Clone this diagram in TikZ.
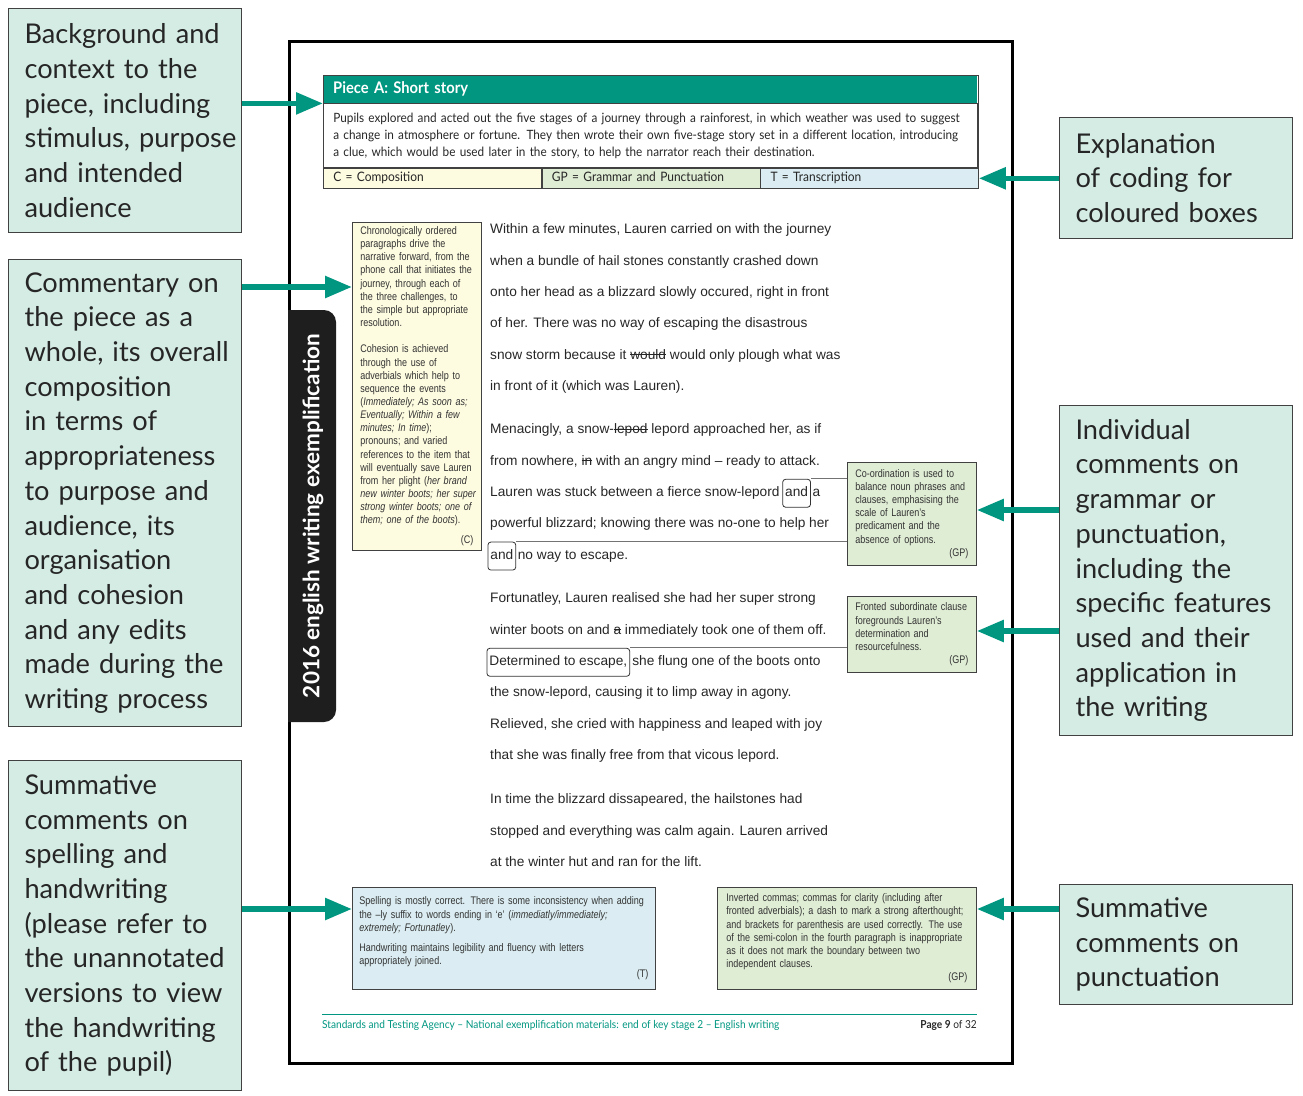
\documentclass[tikz,border=0pt]{standalone}
\usepackage{fontspec}
\setmainfont{Lato}
\newfontfamily\briefont[FakeStretch=0.92]{Lato}
\newfontfamily\storyfont{Liberation Sans}
\newfontfamily\narrowfont[FakeStretch=0.82]{Liberation Sans}
\newsavebox{\struckbox}
\newcommand{\struck}[1]{\sbox{\struckbox}{#1}\rlap{\rule[0.3em]{\wd\struckbox}{0.07em}}#1}
\definecolor{agencyteal}{RGB}{0, 150, 128}
\definecolor{notefill}{RGB}{213, 236, 229}
\definecolor{compfill}{RGB}{253, 251, 224}
\definecolor{gpfill}{RGB}{224, 237, 213}
\definecolor{tfill}{RGB}{219, 237, 242}
\definecolor{edgegray}{RGB}{65, 65, 65}
\definecolor{tabblack}{RGB}{30, 30, 30}
\usetikzlibrary{arrows.meta, positioning, fit}
\tikzset{
    keeplines/.style={
        execute at begin node={\leftskip=0pt\rightskip=0pt plus 1fil minus 60pt\hyphenpenalty=10000\relax}
    },
    notebox/.style={
        rectangle,
        draw=edgegray,
        line width=1pt,
        fill=notefill,
        anchor=north west,
        minimum width=233pt,
        text width=201pt,
        inner xsep=16pt,
        align=left,
        keeplines,
        text=black!85,
        font=\fontsize{27.2}{34.7}\selectfont
    },
    commentbox/.style={
        rectangle,
        draw=edgegray,
        line width=0.8pt,
        anchor=north west,
        inner xsep=8pt,
        inner ysep=0pt,
        align=left,
        keeplines,
        text=black!80,
        font=\narrowfont\fontsize{11}{13.15}\selectfont
    },
    coderow/.style={
        rectangle,
        draw=edgegray,
        line width=0.6pt,
        anchor=north west,
        minimum width=218pt,
        minimum height=20pt,
        text width=198pt,
        text height=9pt,
        text depth=2.5pt,
        inner xsep=10pt,
        align=left,
        keeplines,
        text=black!85,
        font=\briefont\fontsize{13}{14}\selectfont
    },
    storyline/.style={
        inner sep=0pt,
        anchor=base west,
        text=black!85,
        font=\storyfont\fontsize{13.7}{16}\selectfont
    },
    wordbox/.style={
        draw=black!80,
        line width=0.8pt,
        rounded corners=3pt,
        inner xsep=2.5pt,
        inner ysep=0pt,
        text height=10pt,
        text depth=3.5pt,
        minimum height=28pt,
        anchor=base west,
        text=black!85,
        font=\storyfont\fontsize{13.7}{16}\selectfont
    },
    tieline/.style={draw=black!55, line width=1pt},
    pointer/.style={-{Triangle[length=27pt, width=21pt]}, line width=5.5pt, color=agencyteal},
    footnote/.style={inner sep=0pt, text=agencyteal, font=\briefont\fontsize{11}{12}\selectfont}
}
\begin{document}
\begin{tikzpicture}[x=1pt, y=-1pt]
    \useasboundingbox (0,0) rectangle (1303,1095);

    % page with side tab
    \node[draw=black, line width=2.5pt, minimum width=723pt, minimum height=1022pt, anchor=north west, inner sep=0pt] (page) at (288,40) {};
    \fill[tabblack] (288,310) -- (324,310) arc[start angle=-90, end angle=0, radius=12] -- (336,710) arc[start angle=0, end angle=90, radius=12] -- (288,722) -- cycle;
    \node[rotate=90, text=white, font=\bfseries\fontsize{22.5}{25}\selectfont] (tabtitle) at (313,516) {2016 english writing exemplification};

    % header with coding key
    \node[rectangle, fill=agencyteal, anchor=north west, minimum width=654pt, minimum height=28pt, text width=634pt, inner xsep=10pt, align=left, keeplines, text=white, font=\briefont\bfseries\fontsize{16}{17}\selectfont] (title) at (323,75) {Piece A: Short story};
    \node[rectangle, draw=edgegray, line width=0.6pt, anchor=north west, minimum width=654pt, minimum height=64pt, text width=634pt, inner xsep=10pt, inner ysep=0pt, align=left, keeplines, text=black!85, font=\briefont\fontsize{12.8}{17}\selectfont] (brief) at (title.south west) {Pupils explored and acted out the five stages of a journey through a rainforest, in which weather was used to suggest\\ a change in atmosphere or fortune. They then wrote their own five-stage story set in a different location, introducing\\ a clue, which would be used later in the story, to help the narrator reach their destination.};
    \node[coderow, fill=compfill] (ccode) at (brief.south west) {C = Composition};
    \node[coderow, fill=gpfill] (gpcode) at (ccode.north east) {GP = Grammar and Punctuation};
    \node[coderow, fill=tfill] (tcode) at (gpcode.north east) {T = Transcription};
    \node[draw=edgegray, line width=0.8pt, inner sep=0pt, fit=(title)(ccode)(tcode)] (piece) {};

    % story
    \node[storyline] (s1) at (490,233.7) {Within a few minutes, Lauren carried on with the journey};
    \node[storyline] (s2) at (490,265.1) {when a bundle of hail stones constantly crashed down};
    \node[storyline] (s3) at (490,296.5) {onto her head as a blizzard slowly occured, right in front};
    \node[storyline] (s4) at (490,327.9) {of her. There was no way of escaping the disastrous};
    \node[storyline] (s5) at (490,359.3) {snow storm because it \struck{would} would only plough what was};
    \node[storyline] (s6) at (490,390.7) {in front of it (which was Lauren).};

    \node[storyline] (s7) at (490,433.7) {Menacingly, a snow-\struck{lepod} lepord approached her, as if};
    \node[storyline] (s8) at (490,465.1) {from nowhere, \struck{in} with an angry mind – ready to attack.};
    \node[storyline] (s9) at (490,496.5) {Lauren was stuck between a fierce snow-lepord};
    \node[wordbox] (and1) at ([xshift=2.5pt]s9.base east) {and};
    \node[storyline] (s9b) at ([xshift=1.5pt]and1.base east) {a};
    \node[storyline] (s10) at (490,527.9) {powerful blizzard; knowing there was no-one to help her};
    \node[wordbox] (and2) at (487.5,559.3) {and};
    \node[storyline] (s11) at ([xshift=1.5pt]and2.base east) {no way to escape.};

    \node[storyline] (s12) at (490,602.7) {Fortunatley, Lauren realised she had her super strong};
    \node[storyline] (s13) at (490,634.1) {winter boots on and \struck{a} immediately took one of them off.};
    \node[wordbox] (det) at (486.5,665.5) {Determined to escape,};
    \node[storyline] (s14) at ([xshift=2pt]det.base east) {she flung one of the boots onto};
    \node[storyline] (s15) at (490,696.9) {the snow-lepord, causing it to limp away in agony.};
    \node[storyline] (s16) at (490,728.3) {Relieved, she cried with happiness and leaped with joy};
    \node[storyline] (s17) at (490,759.7) {that she was finally free from that vicous lepord.};

    \node[storyline] (s18) at (490,803.7) {In time the blizzard dissapeared, the hailstones had};
    \node[storyline] (s19) at (490,835.1) {stopped and everything was calm again. Lauren arrived};
    \node[storyline] (s20) at (490,866.5) {at the winter hut and ran for the lift.};

    % comments on the piece
    \node[commentbox, fill=compfill, minimum width=129pt, minimum height=328pt, text width=113pt] (cbox) at (352,222) {Chronologically ordered\\ paragraphs drive the\\ narrative forward, from the\\ phone call that initiates the\\ journey, through each of\\ the three challenges, to\\ the simple but appropriate\\ resolution.\\[13.15pt] Cohesion is achieved\\ through the use of\\ adverbials which help to\\ sequence the events\\ (\textit{Immediately; As soon as;}\\ \textit{Eventually; Within a few}\\ \textit{minutes; In time});\\ pronouns; and varied\\ references to the item that\\ will eventually save Lauren\\ from her plight (\textit{her brand}\\ \textit{new winter boots; her super}\\ \textit{strong winter boots; one of}\\ \textit{them; one of the boots}).\\[7pt] \hspace*{\fill}(C)};
    \node[commentbox, fill=gpfill, minimum width=129pt, minimum height=103pt, text width=113pt] (gpa) at (847,462) {Co-ordination is used to\\ balance noun phrases and\\ clauses, emphasising the\\ scale of Lauren’s\\ predicament and the\\ absence of options.\\ \hspace*{\fill}(GP)};
    \node[commentbox, fill=gpfill, minimum width=129pt, minimum height=76pt, text width=113pt] (gpb) at (847,596) {Fronted subordinate clause\\ foregrounds Lauren’s\\ determination and\\ resourcefulness.\\ \hspace*{\fill}(GP)};
    \node[commentbox, fill=tfill, minimum width=303pt, minimum height=102pt, text width=289pt, inner xsep=7pt] (tbox) at (352,887) {Spelling is mostly correct. There is some inconsistency when adding\\ the –ly suffix to words ending in ‘e’ (\textit{immediatly/immediately;}\\ \textit{extremely; Fortunatley}).\\[7pt] Handwriting maintains legibility and fluency with letters\\ appropriately joined.\\ \hspace*{\fill}(T)};
    \node[commentbox, fill=gpfill, minimum width=259pt, minimum height=102pt, text width=241pt, inner xsep=9pt] (gpc) at (717,887) {Inverted commas; commas for clarity (including after\\ fronted adverbials); a dash to mark a strong afterthought;\\ and brackets for parenthesis are used correctly. The use\\ of the semi-colon in the fourth paragraph is inappropriate\\ as it does not mark the boundary between two\\ independent clauses.\\ \hspace*{\fill}(GP)};

    \draw[tieline] (and1.north east) -- (and1.north east -| gpa.west);
    \draw[tieline] (and2.north east) -- (and2.north east -| gpa.west);
    \draw[tieline] (det.north east) -- (det.north east -| gpb.west);

    % footer
    \draw[agencyteal, line width=1pt] (322,1014) -- (977,1014);
    \node[footnote, anchor=base west] (agency) at (322,1028.5) {Standards and Testing Agency – National exemplification materials: end of key stage 2 – English writing};
    \node[footnote, anchor=base east, text=black!85] (pageno) at (977,1028.5) {\textbf{Page 9} of 32};

    % explanation boxes
    \node[notebox, minimum height=224pt] (bg) at (8,8) {Background and\\ context to the\\ piece, including\\ stimulus, purpose\\ and intended\\ audience};
    \node[notebox, minimum height=467pt] (comm) at (8,259) {Commentary on\\ the piece as a\\ whole, its overall\\ composition\\ in terms of\\ appropriateness\\ to purpose and\\ audience, its\\ organisation\\ and cohesion\\ and any edits\\ made during the\\ writing process};
    \node[notebox, minimum height=330pt] (summ) at (8,760) {Summative\\ comments on\\ spelling and\\ handwriting\\ (please refer to\\ the unannotated\\ versions to view\\ the handwriting\\ of the pupil)};
    \node[notebox, minimum height=121pt] (expl) at (1059,117) {Explanation\\ of coding for\\ coloured boxes};
    \node[notebox, minimum height=330pt] (ind) at (1059,405) {Individual\\ comments on\\ grammar or\\ punctuation,\\ including the\\ specific features\\ used and their\\ application in\\ the writing};
    \node[notebox, minimum height=120pt] (punc) at (1059,884) {Summative\\ comments on\\ punctuation};

    \draw[pointer] (bg.east |- title.south) -- (title.south west);
    \draw[pointer] (comm.east |- 0,287) -- (cbox.west |- 0,287);
    \draw[pointer] (summ.east |- 0,909) -- (tbox.west |- 0,909);
    \draw[pointer] (expl.west |- tcode.east) -- (tcode.east);
    \draw[pointer] (ind.west |- 0,510) -- (gpa.east |- 0,510);
    \draw[pointer] (ind.west |- 0,631) -- (gpb.east |- 0,631);
    \draw[pointer] (punc.west |- 0,909) -- (gpc.east |- 0,909);
\end{tikzpicture}
\end{document}
